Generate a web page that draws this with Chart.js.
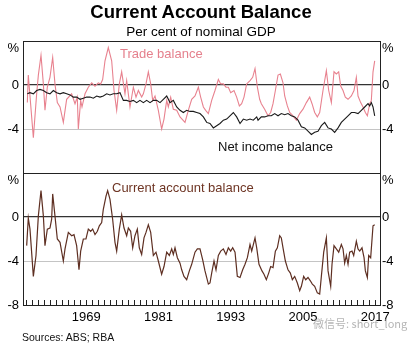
<!DOCTYPE html>
<html>
<head>
<meta charset="utf-8">
<script src="https://cdn.jsdelivr.net/npm/chart.js@4.4.0/dist/chart.umd.min.js"></script>
<style>
  body { margin: 0; background: #fff; font-family: "Liberation Sans", Arial, sans-serif; }
  #wrap { position: relative; width: 413px; height: 345px; overflow: hidden; background: #fff; }
  canvas { position: absolute; left: 0; top: 0; }
  .t { position: absolute; white-space: nowrap; }
</style>
</head>
<body>
<div id="wrap">
  <canvas id="topChart" width="413" height="345"></canvas>
  <canvas id="botChart" width="413" height="345"></canvas>
  <div class="t" style="left:0;width:402px;text-align:center;top:3px;font-size:18.5px;line-height:18.5px;font-weight:bold;">Current Account Balance</div>
  <div class="t" style="left:0;width:402px;text-align:center;top:25px;font-size:13.5px;line-height:13.5px;">Per cent of nominal GDP</div>
  <div class="t" style="left:120px;top:47px;font-size:13px;line-height:13px;color:#e5808d;">Trade balance</div>
  <div class="t" style="left:218px;top:140px;font-size:13px;line-height:13px;color:#111;">Net income balance</div>
  <div class="t" style="left:112px;top:181px;font-size:13px;line-height:13px;color:#6e3524;">Current account balance</div>
  <div class="t" style="left:22px;top:332px;font-size:10.5px;line-height:10.5px;color:#111;">Sources: ABS; RBA</div>
  <div class="t" style="left:313px;top:318px;font-size:11px;line-height:11px;color:#b5b5b5;font-family:'Noto Sans CJK SC',sans-serif;">微信号: short_long</div>
</div>
<script>
// per cent of nominal GDP
const tradeYears = [1959.22, 1959.38, 1960.22, 1960.77, 1961.05, 1961.49, 1961.88, 1962.15, 1962.54, 1962.98,
  1963.43, 1963.81, 1964.20, 1964.65, 1965.20, 1965.75, 1966.58, 1967.14, 1967.52, 1967.69,
  1968.08, 1968.30, 1968.80, 1969.35, 1969.91, 1970.46, 1971.01, 1971.40, 1971.73, 1972.12,
  1972.67, 1973.23, 1973.62, 1974.06, 1974.50, 1974.89, 1975.44, 1975.72, 1976.27, 1976.83,
  1977.27, 1977.66, 1978.21, 1978.49, 1978.93, 1979.32, 1979.71, 1980.04, 1980.43, 1980.98,
  1981.53, 1981.92, 1982.37, 1982.64, 1983.03, 1983.47, 1984.03, 1984.58, 1985.41, 1985.96,
  1986.52, 1987.07, 1987.63, 1988.01, 1988.46, 1988.84, 1989.29, 1989.84, 1990.39, 1990.95,
  1991.34, 1991.78, 1992.22, 1992.61, 1993.00, 1993.55, 1993.99, 1994.44, 1994.82, 1995.21,
  1995.65, 1996.21, 1996.65, 1997.04, 1997.43, 1997.81, 1998.09, 1998.64, 1999.20, 1999.64,
  2000.03, 2000.42, 2000.86, 2001.25, 2001.69, 2001.97, 2002.41, 2002.80, 2003.35, 2003.91,
  2004.46, 2005.01, 2005.57, 2006.12, 2006.51, 2006.95, 2007.39, 2007.78, 2008.33, 2008.89,
  2009.28, 2009.72, 2010.16, 2010.55, 2010.94, 2011.27, 2011.66, 2012.04, 2012.49, 2013.04,
  2013.48, 2013.87, 2014.15, 2014.59, 2014.98, 2015.37, 2015.70, 2016.09, 2016.36, 2016.64, 2016.92];
const tradeValues = [-1.6, 0.9, -4.8, -0.8, 0.9, 2.7, 0.1, -2.3, -0.2, 0.7,
  2.5, 0.1, -1.6, -2.0, -3.4, -1.3, -0.8, -1.7, -1.1, -4.0,
  -1.4, -2.0, -0.8, -0.2, 0.2, -0.1, 0.2, 0.1, 0.5, 2.2,
  3.4, 2.2, -0.5, -2.3, 0.1, 1.2, -0.8, 0.4, -2.0, -0.2,
  -1.1, -0.5, -1.1, -0.8, 0.1, 1.2, 0.1, -1.4, -1.0, -2.3,
  -4.0, -3.1, -1.4, -2.0, -1.1, -2.2, -2.3, -2.9, -3.4, -2.3,
  -1.3, -1.0, -0.2, -1.1, -2.0, -2.3, -2.6, -1.4, -0.5, 0.5,
  0.1, 0.1, -0.2, -0.2, -0.7, -0.5, -1.1, -1.9, -1.7, -1.1,
  0.1, 0.4, 0.7, 1.5, -0.2, -1.3, -1.7, -2.2, -2.8, -2.5,
  -1.7, -0.5, 0.9, 1.0, 0.2, -1.0, -1.9, -2.5, -2.8, -3.2,
  -2.6, -2.2, -1.6, -1.1, -1.7, -2.5, -2.9, -2.5, -0.5, 1.3,
  -0.5, -1.6, 1.2, 1.0, 1.2, -0.1, -0.5, -1.1, -1.3, -1.0,
  -0.5, 0.7, -1.0, -1.6, -2.0, -2.5, -2.8, -1.7, -1.4, 1.2, 2.2];

const incomeYears = [1959.22, 1959.66, 1960.22, 1960.77, 1961.32, 1961.88, 1962.43, 1962.98, 1963.54, 1964.09,
  1964.65, 1965.20, 1965.75, 1966.31, 1966.86, 1967.41, 1967.97, 1968.52, 1969.07, 1969.63,
  1970.18, 1970.74, 1971.29, 1971.84, 1972.40, 1972.95, 1973.50, 1974.06, 1974.61, 1975.17,
  1975.72, 1976.27, 1976.83, 1977.38, 1977.93, 1978.49, 1979.04, 1979.60, 1980.15, 1980.70,
  1981.26, 1981.81, 1982.37, 1982.92, 1983.47, 1984.03, 1984.58, 1985.13, 1985.69, 1986.24,
  1986.79, 1987.35, 1987.90, 1988.46, 1989.01, 1989.56, 1990.12, 1990.67, 1991.22, 1991.78,
  1992.33, 1992.88, 1993.44, 1993.99, 1994.55, 1995.10, 1995.65, 1996.21, 1996.76, 1997.32,
  1997.54, 1998.09, 1998.64, 1999.20, 1999.75, 2000.31, 2000.86, 2001.41, 2001.97, 2002.52,
  2003.07, 2003.63, 2004.18, 2004.74, 2005.29, 2005.84, 2006.40, 2006.95, 2007.50, 2008.06,
  2008.61, 2009.17, 2009.72, 2010.27, 2010.83, 2011.38, 2011.93, 2012.49, 2013.04, 2013.59,
  2014.15, 2014.70, 2015.26, 2015.81, 2016.09, 2016.36, 2016.64, 2016.92];
const incomeValues = [-0.8, -0.7, -0.8, -0.5, -0.4, -0.5, -0.7, -0.8, -0.5, -0.7,
  -0.8, -0.7, -0.8, -0.9, -1.1, -1.1, -1.3, -1.2, -1.1, -1.1,
  -1.2, -1.0, -1.1, -1.0, -0.8, -0.9, -0.8, -0.8, -0.7, -1.4,
  -1.4, -1.5, -1.4, -1.6, -1.4, -1.6, -1.4, -1.6, -1.4, -1.4,
  -1.6, -1.3, -1.0, -1.6, -1.4, -2.0, -2.3, -2.5, -2.3, -2.4,
  -2.4, -2.5, -2.6, -2.9, -3.4, -3.5, -3.9, -3.7, -3.5, -3.2,
  -3.1, -2.8, -2.5, -2.9, -3.5, -3.1, -3.2, -3.1, -3.2, -2.9,
  -3.2, -2.9, -2.9, -2.8, -2.8, -2.6, -2.8, -2.6, -2.7, -2.6,
  -2.8, -2.9, -3.2, -3.8, -3.9, -4.2, -4.5, -4.3, -4.2, -3.7,
  -3.4, -3.9, -4.0, -4.3, -3.9, -3.4, -3.1, -2.8, -2.5, -2.5,
  -2.6, -2.3, -2.0, -1.7, -1.9, -1.6, -2.0, -2.8];

const caYears = [1959.11, 1959.38, 1959.66, 1960.22, 1960.66, 1961.05, 1961.49, 1961.88, 1962.15, 1962.54,
  1962.98, 1963.26, 1963.43, 1963.81, 1964.20, 1964.65, 1965.20, 1965.48, 1966.03, 1966.58,
  1966.97, 1967.41, 1967.80, 1968.08, 1968.52, 1968.96, 1969.35, 1969.74, 1970.07, 1970.46,
  1970.85, 1971.18, 1971.57, 1971.84, 1972.29, 1972.56, 1972.95, 1973.39, 1973.78, 1974.06,
  1974.50, 1974.89, 1975.28, 1975.72, 1976.00, 1976.38, 1976.72, 1977.10, 1977.49, 1977.82,
  1978.21, 1978.60, 1978.93, 1979.32, 1979.71, 1980.15, 1980.59, 1980.98, 1981.53, 1981.92,
  1982.37, 1982.81, 1983.20, 1983.47, 1983.75, 1984.14, 1984.58, 1984.86, 1985.24, 1985.69,
  1986.13, 1986.52, 1987.07, 1987.46, 1987.90, 1988.35, 1988.73, 1989.29, 1989.56, 1989.84,
  1990.23, 1990.56, 1990.95, 1991.34, 1991.78, 1992.22, 1992.61, 1993.00, 1993.33, 1993.72,
  1994.10, 1994.55, 1994.99, 1995.38, 1995.77, 1996.21, 1996.49, 1997.04, 1997.32, 1997.70,
  1998.20, 1998.53, 1998.92, 1999.31, 1999.64, 2000.03, 2000.42, 2000.75, 2001.14, 2001.41,
  2001.69, 2002.08, 2002.52, 2002.91, 2003.24, 2003.63, 2004.07, 2004.46, 2004.74, 2005.12,
  2005.46, 2005.84, 2006.23, 2006.56, 2006.95, 2007.39, 2007.78, 2008.06, 2008.45, 2008.89,
  2009.17, 2009.61, 2009.83, 2010.16, 2010.55, 2010.94, 2011.38, 2011.66, 2011.93, 2012.21,
  2012.49, 2012.76, 2013.15, 2013.43, 2013.87, 2014.15, 2014.43, 2014.81, 2015.15, 2015.37,
  2015.70, 2015.92, 2016.25, 2016.64, 2016.92];
const caValues = [-2.6, -0.1, -1.1, -5.4, -3.5, 0.1, 2.4, 0.1, -2.6, -1.1,
  -1.0, -0.2, 2.1, 0.1, -2.0, -2.3, -4.0, -2.9, -1.4, -1.7,
  -1.6, -2.6, -4.8, -3.1, -2.0, -2.0, -1.1, -1.3, -1.1, -1.6,
  -1.3, -0.8, -0.5, 0.7, 1.9, 2.4, 1.6, -0.2, -2.3, -3.1,
  -1.1, 0.2, -1.0, -1.7, -1.0, -1.3, -2.8, -1.7, -1.1, -2.8,
  -3.4, -1.9, -1.4, -0.7, -1.4, -3.5, -3.2, -4.0, -5.2, -4.5,
  -3.2, -3.5, -2.9, -3.4, -2.8, -3.7, -4.2, -4.8, -5.4, -5.7,
  -4.9, -4.3, -3.2, -2.9, -2.9, -3.9, -4.9, -6.1, -6.0, -5.1,
  -4.0, -4.8, -3.5, -3.1, -2.9, -3.4, -2.8, -3.1, -2.8, -3.2,
  -5.4, -5.5, -4.8, -4.3, -3.7, -2.5, -3.1, -1.9, -2.8, -4.3,
  -4.9, -5.2, -5.7, -5.1, -4.5, -4.6, -3.1, -2.8, -1.7, -1.9,
  -2.8, -4.0, -4.8, -5.1, -5.7, -5.4, -6.0, -6.7, -6.3, -5.4,
  -5.7, -5.5, -5.8, -6.1, -6.3, -6.9, -7.0, -5.4, -3.2, -1.9,
  -4.9, -6.3, -4.3, -2.6, -2.9, -3.2, -2.5, -2.9, -4.2, -3.5,
  -4.3, -3.2, -3.1, -3.5, -2.2, -2.9, -3.1, -2.8, -3.7, -4.9,
  -5.5, -3.5, -3.7, -0.8, -0.7];

const yTicks = [4, 0, -4, -8];
const yearLabels = [1969, 1981, 1993, 2005, 2017];
const firstYear = 1959, lastYear = 2017;
const xMin = 1958.5, xMax = 2017.8;

const pts = (xs, ys) => xs.map((x, i) => ({ x: x, y: ys[i] }));

Chart.defaults.font.family = '"Liberation Sans", Arial, sans-serif';
Chart.defaults.color = '#000';

function yLabel(showBottom) {
  return function (v) {
    if (v === 4) return ['', '%'];
    if (v === -8) return showBottom ? '-8' : '';
    return String(v);
  };
}

function gridColor(ctx) {
  const v = ctx.tick.value;
  if (v === 0) return '#333';
  if (v === -4) return '#c4c4c4';
  return '#222';
}

function yAxes(showBottom) {
  return {
    y: {
      position: 'left', min: -8, max: 4,
      afterBuildTicks: s => { s.ticks = yTicks.map(v => ({ value: v })); },
      ticks: { padding: 4, font: { size: 13 }, callback: yLabel(showBottom) },
      grid: { drawTicks: false, color: gridColor, lineWidth: c => c.tick.value === 0 ? 1.3 : 1 },
      border: { display: true, color: '#222' },
      afterFit: s => { s.width = 23; }
    },
    y2: {
      position: 'right', min: -8, max: 4,
      afterBuildTicks: s => { s.ticks = yTicks.map(v => ({ value: v })); },
      ticks: { padding: 2, font: { size: 13 }, callback: yLabel(showBottom) },
      grid: { drawTicks: false, drawOnChartArea: false },
      border: { display: true, color: '#222' },
      afterFit: s => { s.width = 33; }
    }
  };
}

const common = {
  responsive: false,
  animation: false,
  events: [],
  plugins: { legend: { display: false }, tooltip: { enabled: false } },
  elements: { point: { radius: 0 }, line: { tension: 0 } }
};

new Chart(document.getElementById('topChart'), {
  type: 'line',
  data: {
    datasets: [
      { data: pts(incomeYears, incomeValues), borderColor: '#1a1a1a', borderWidth: 1.1 },
      { data: pts(tradeYears, tradeValues), borderColor: '#e8828f', borderWidth: 1.1 }
    ]
  },
  options: Object.assign({}, common, {
    layout: { padding: { top: 41, bottom: 172, left: 0, right: 0 } },
    scales: Object.assign({
      x: { type: 'linear', min: xMin, max: xMax, display: false }
    }, yAxes(false))
  })
});

new Chart(document.getElementById('botChart'), {
  type: 'line',
  data: {
    datasets: [
      { data: pts(caYears, caValues), borderColor: '#5e2f22', borderWidth: 1.2 }
    ]
  },
  options: Object.assign({}, common, {
    layout: { padding: { top: 173, bottom: 20, left: 0, right: 0 } },
    scales: Object.assign({
      x: {
        type: 'linear', min: xMin, max: xMax,
        // one tick mark per year, labels every 12 years
        afterBuildTicks: s => {
          const t = [];
          for (let yr = firstYear; yr <= lastYear; yr++) t.push({ value: yr });
          s.ticks = t;
        },
        ticks: {
          autoSkip: false, maxRotation: 0, minRotation: 0,
          padding: 10, font: { size: 13 },
          callback: v => yearLabels.includes(v) ? String(v) : ''
        },
        grid: { drawOnChartArea: false, tickLength: -5, color: '#222' },
        border: { display: true, color: '#222' },
        afterFit: s => { s.height = 20; }
      }
    }, yAxes(true))
  })
});
</script>
</body>
</html>
